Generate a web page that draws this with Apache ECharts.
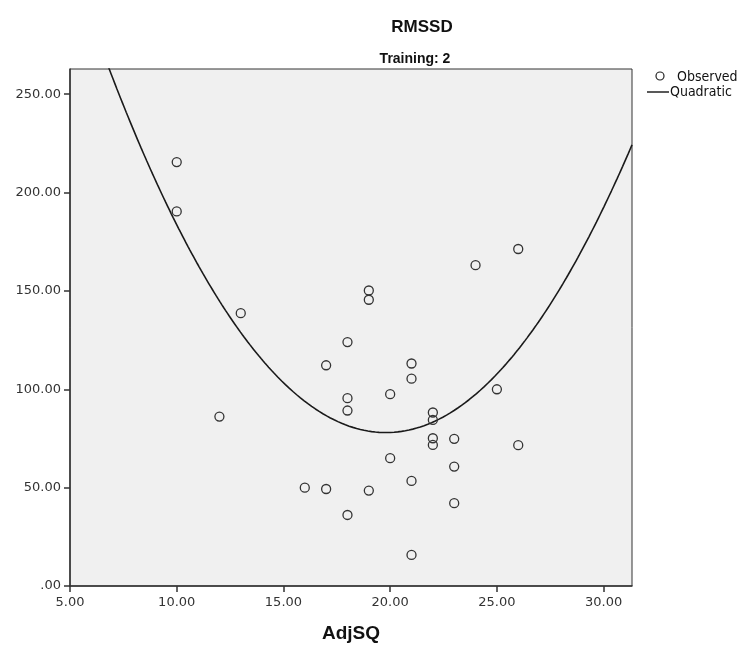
<!DOCTYPE html>
<html>
<head>
<meta charset="utf-8">
<script src="https://cdn.jsdelivr.net/npm/echarts@6/dist/echarts.min.js"></script>
<style>
html,body{margin:0;padding:0;background:#fff;}
#chart{width:746px;height:648px;}
</style>
</head>
<body>
<div id="chart"></div>
<script>
// Observed points (AdjSQ, RMSSD)
const adjSQ = [10, 10, 12, 13, 16, 17, 17, 18, 18, 18, 18, 19, 19, 19, 20, 20, 21, 21, 21, 21, 22, 22, 22, 22, 23, 23, 23, 24, 25, 26, 26];
const rmssd = [215.5, 190.4, 86.1, 138.7, 50.0, 112.2, 49.3, 124.0, 95.5, 89.2, 36.1, 150.2, 145.5, 48.5, 97.5, 65.0, 113.1, 105.4, 53.4, 15.8, 88.2, 84.4, 75.1, 71.7, 74.8, 60.7, 42.1, 163.1, 100.0, 171.3, 71.6];
// Quadratic fit coefficients: y = b0 + b1*x + b2*x^2
const quadB0 = 509.24;
const quadB1 = -43.56;
const quadB2 = 1.10;
// Axis ranges and tick labels
const xMin = 5, xMax = 31.33, xStep = 5;
const yMin = 0, yMax = 262.8, yStep = 50;
const xTickLabels = ['5.00', '10.00', '15.00', '20.00', '25.00', '30.00'];
const yTickLabels = ['.00', '50.00', '100.00', '150.00', '200.00', '250.00'];

const observed = adjSQ.map((x, i) => [x, rmssd[i]]);
const fitCurve = [];
for (let k = 0; k <= 300; k++) {
  const x = xMin + (xMax - xMin) * k / 300;
  fitCurve.push([x, quadB0 + quadB1 * x + quadB2 * x * x]);
}

const labelFont = 'DejaVu Sans';
const chart = echarts.init(document.getElementById('chart'), null, {renderer: 'canvas'});
chart.setOption({
  animation: false,
  backgroundColor: '#ffffff',
  graphic: [
    {type: 'text', x: 422, y: 27, style: {text: 'RMSSD', font: 'bold 17px "Liberation Sans"', fill: '#111', textAlign: 'center', textVerticalAlign: 'middle'}},
    {type: 'text', x: 415, y: 59, style: {text: 'Training: 2', font: 'bold 14px "Liberation Sans"', fill: '#111', textAlign: 'center', textVerticalAlign: 'middle'}},
    {type: 'circle', shape: {cx: 660, cy: 76, r: 4}, style: {fill: 'none', stroke: '#222', lineWidth: 1.2}},
    {type: 'text', x: 677, y: 77, style: {text: 'Observed', font: '14px "DejaVu Sans Condensed", "Liberation Sans Narrow", sans-serif', fill: '#111', textAlign: 'left', textVerticalAlign: 'middle'}},
    {type: 'line', shape: {x1: 647, y1: 92, x2: 669, y2: 92}, style: {stroke: '#222', lineWidth: 1.5}},
    {type: 'text', x: 670, y: 92, style: {text: 'Quadratic', font: '14px "DejaVu Sans Condensed", "Liberation Sans Narrow", sans-serif', fill: '#111', textAlign: 'left', textVerticalAlign: 'middle'}}
  ],
  grid: {
    left: 70, right: 114, top: 69, bottom: 62,
    show: true, backgroundColor: '#f0f0f0', borderColor: '#333', borderWidth: 1
  },
  xAxis: {
    type: 'value', min: xMin, max: xMax, interval: xStep,
    name: 'AdjSQ', nameLocation: 'middle', nameGap: 38,
    nameTextStyle: {fontFamily: 'Liberation Sans', fontWeight: 'bold', fontSize: 19, color: '#111'},
    axisLine: {show: true, onZero: false, lineStyle: {color: '#333', width: 1.5}},
    axisTick: {show: true, length: 6, lineStyle: {color: '#333', width: 1.5}},
    axisLabel: {
      margin: 10, fontFamily: labelFont, fontSize: 13, color: '#333',
      showMaxLabel: false,
      formatter: v => { const i = Math.round((v - xMin) / xStep); return Math.abs(v - (xMin + i * xStep)) < 1e-6 ? xTickLabels[i] : ''; }
    },
    splitLine: {show: false}
  },
  yAxis: {
    type: 'value', min: yMin, max: yMax, interval: yStep,
    axisLine: {show: true, onZero: false, lineStyle: {color: '#333', width: 1.5}},
    axisTick: {show: true, length: 6, lineStyle: {color: '#333', width: 1.5}},
    axisLabel: {
      margin: 9, fontFamily: labelFont, fontSize: 13, color: '#333',
      showMaxLabel: false,
      formatter: v => { const i = Math.round((v - yMin) / yStep); return Math.abs(v - (yMin + i * yStep)) < 1e-6 ? yTickLabels[i] : ''; }
    },
    splitLine: {show: false}
  },
  series: [
    {
      name: 'Quadratic', type: 'line', data: fitCurve, showSymbol: false, clip: true,
      lineStyle: {color: '#1a1a1a', width: 1.6}, z: 2
    },
    {
      name: 'Observed', type: 'scatter', data: observed, symbol: 'circle', symbolSize: 9,
      itemStyle: {color: 'rgba(0,0,0,0)', borderColor: '#333', borderWidth: 1.3, opacity: 1}, z: 3
    }
  ]
});
</script>
</body>
</html>
